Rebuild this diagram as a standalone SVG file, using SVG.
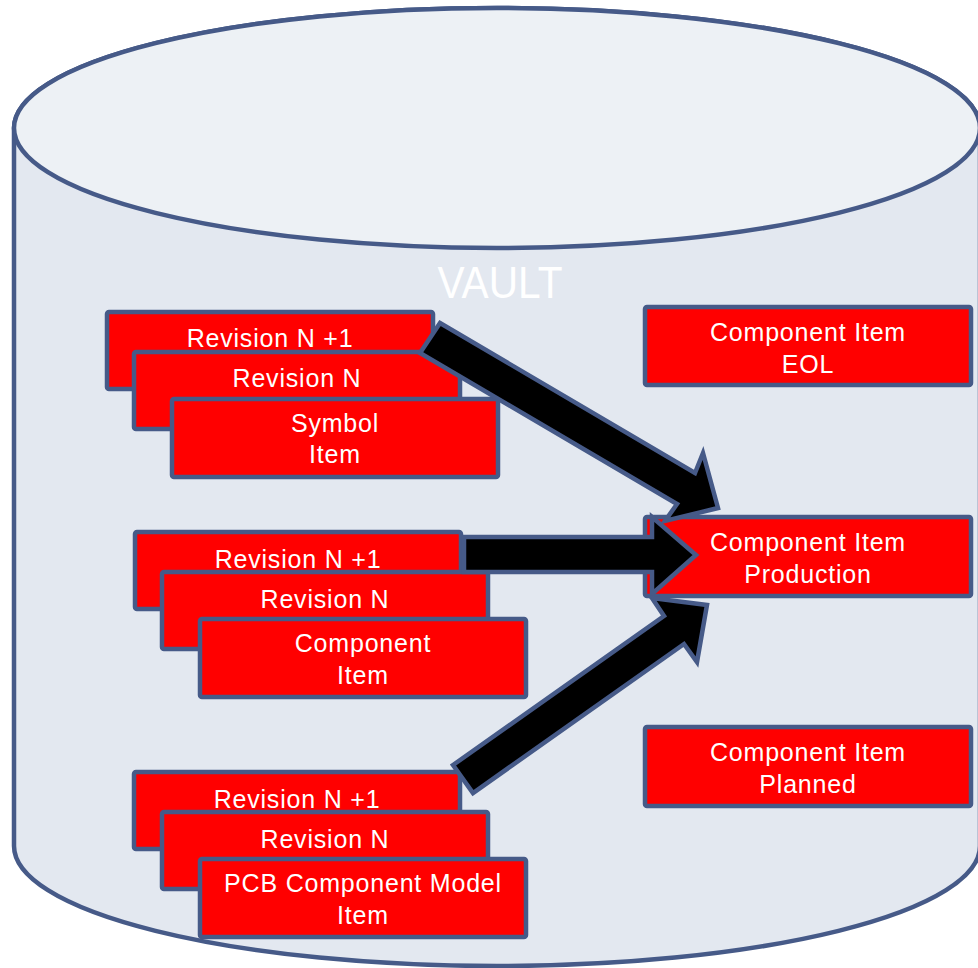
<svg xmlns="http://www.w3.org/2000/svg" width="978" height="968" viewBox="0 0 978 968">
<style>
.cyl{stroke:#465A88;stroke-width:4.5}
.box{fill:#FF0000;stroke:#465A88;stroke-width:4.5}
.t{font-family:"Liberation Sans",Arial,sans-serif;font-size:25px;letter-spacing:0.8px;fill:#FFFFFF;text-anchor:middle}
.arr{fill:#000000;stroke:#465A88;stroke-width:4.5;stroke-linejoin:miter}
</style>
<rect width="978" height="968" fill="#FFFFFF"/>
<g id="vault">
<path class="cyl" fill="#E3E8F0" d="M14,128 A483,120 0 0 1 980,128 L980,846 A483,120 0 0 1 14,846 Z"/>
<ellipse class="cyl" fill="#EDF1F5" cx="497" cy="128" rx="483" ry="120"/>
<text x="500" y="298" font-family="Liberation Sans, Arial, sans-serif" font-size="44" fill="#FFFFFF" text-anchor="middle" textLength="125" lengthAdjust="spacingAndGlyphs">VAULT</text>
</g>
<g id="symbol-stack">
<g id="sym-rev-n1"><rect class="box" x="107" y="312" width="326" height="77" rx="2"/><text class="t" x="270" y="347">Revision N +1</text></g>
<g id="sym-rev-n"><rect class="box" x="134" y="352" width="326" height="77" rx="2"/><text class="t" x="297" y="387">Revision N</text></g>
<g id="sym-item"><rect class="box" x="172" y="399" width="326" height="78" rx="2"/><text class="t" x="335" y="432">Symbol</text><text class="t" x="335" y="463">Item</text></g>
</g>
<g id="component-stack">
<g id="cmp-rev-n1"><rect class="box" x="135" y="532" width="326" height="77" rx="2"/><text class="t" x="298" y="568">Revision N +1</text></g>
<g id="cmp-rev-n"><rect class="box" x="162" y="572" width="326" height="77" rx="2"/><text class="t" x="325" y="608">Revision N</text></g>
<g id="cmp-item"><rect class="box" x="200" y="619" width="326" height="78" rx="2"/><text class="t" x="363" y="652">Component</text><text class="t" x="363" y="684">Item</text></g>
</g>
<g id="pcb-stack">
<g id="pcb-rev-n1"><rect class="box" x="134" y="772" width="326" height="77" rx="2"/><text class="t" x="297" y="808">Revision N +1</text></g>
<g id="pcb-rev-n"><rect class="box" x="162" y="812" width="326" height="77" rx="2"/><text class="t" x="325" y="848">Revision N</text></g>
<g id="pcb-item"><rect class="box" x="200" y="859" width="326" height="78" rx="2"/><text class="t" x="363" y="892">PCB Component Model</text><text class="t" x="363" y="924">Item</text></g>
</g>
<g id="state-eol"><rect class="box" x="645" y="307" width="326" height="78" rx="2"/><text class="t" x="808" y="341">Component Item</text><text class="t" x="808" y="373">EOL</text></g>
<g id="state-production"><rect class="box" x="645" y="517" width="326" height="79" rx="2"/><text class="t" x="808" y="551">Component Item</text><text class="t" x="808" y="583">Production</text></g>
<g id="state-planned"><rect class="box" x="645" y="727" width="326" height="79" rx="2"/><text class="t" x="808" y="761">Component Item</text><text class="t" x="808" y="793">Planned</text></g>
<g id="connectors">
<polygon class="arr" points="440,323 695,473 703,453 718,508 665,521 677,504 420,353"/>
<polygon class="arr" points="464,537 652,537 652,517 696,555 652,594 652,572 464,572"/>
<polygon class="arr" points="453,765 664,616 652,598 707,605 697,662 684,644 473,793"/>
</g>
</svg>
